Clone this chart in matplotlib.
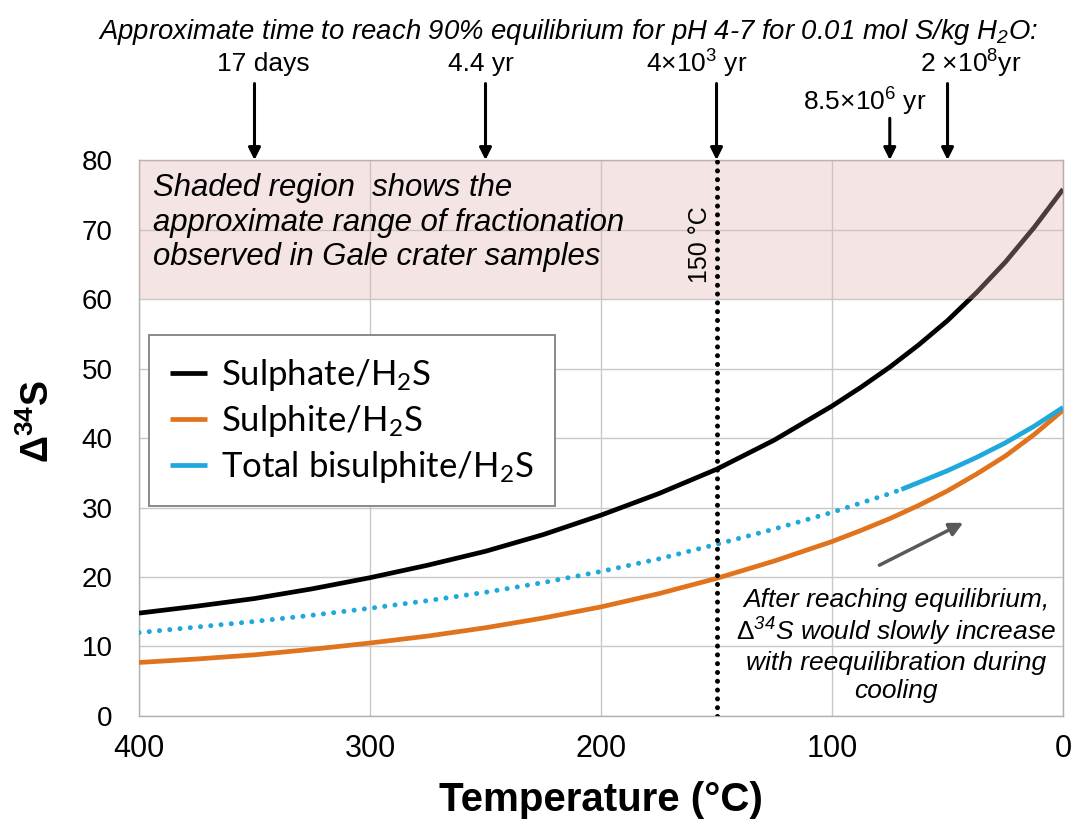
import matplotlib
matplotlib.use("Agg")
import matplotlib.pyplot as plt
from matplotlib.patches import Rectangle

# ---- data ----
temps = [400, 375, 350, 325, 300, 275, 250, 225, 200, 175, 150, 125, 100, 87.5, 75, 62.5, 50, 37.5, 25, 12.5, 0]
sulphate = [14.8, 15.8, 16.9, 18.3, 19.9, 21.7, 23.7, 26.1, 28.9, 32.0, 35.5, 39.7, 44.6, 47.3, 50.2, 53.4, 56.9, 60.9, 65.3, 70.3, 75.8]
sulphite = [7.7, 8.2, 8.8, 9.6, 10.5, 11.5, 12.7, 14.1, 15.7, 17.6, 19.8, 22.3, 25.1, 26.7, 28.4, 30.3, 32.4, 34.8, 37.4, 40.5, 44.0]
bisul_dot_t = [400, 375, 350, 325, 300, 275, 250, 225, 200, 175, 150, 125, 100, 75, 70]
bisul_dot = [12.0, 12.8, 13.6, 14.5, 15.5, 16.6, 17.8, 19.2, 20.8, 22.6, 24.7, 26.9, 29.3, 32.0, 32.6]
bisul_sol_t = [70, 62.5, 50, 37.5, 25, 12.5, 0]
bisul_sol = [32.6, 33.6, 35.3, 37.2, 39.3, 41.7, 44.4]

shade_range = (60, 80)
line_150 = 150

arrow_temps = [350, 250, 150, 75, 50]
arrow_labels = ["17 days", "4.4 yr", "4\u00d710$^\\mathregular{3}$ yr",
                "8.5\u00d710$^\\mathregular{6}$ yr", "2 \u00d710$^\\mathregular{8}$yr"]
arrow_label_y = [93.8, 93.8, 93.8, 88.4, 93.8]
arrow_label_x = [346, 252, 158.5, 86, 40]
arrow_start_y = [91.0, 91.0, 91.0, 86.0, 91.0]

xticks = [400, 300, 200, 100, 0]
yticks = [0, 10, 20, 30, 40, 50, 60, 70, 80]

narrow = ['Liberation Sans Narrow', 'Liberation Sans', 'DejaVu Sans']
arial = ['Liberation Sans', 'DejaVu Sans']
calib = ['Lato', 'DejaVu Sans']

plt.rcParams['mathtext.fontset'] = 'custom'
plt.rcParams['mathtext.rm'] = 'Liberation Sans'
plt.rcParams['mathtext.bf'] = 'Liberation Sans:bold'
plt.rcParams['mathtext.it'] = 'Liberation Sans:italic'

fig = plt.figure(figsize=(10.74, 8.21), dpi=100)
ax = fig.add_axes([0.1294, 0.1279, 0.8604, 0.6772])

ax.set_xlim(400, 0)
ax.set_ylim(0, 80)
ax.set_xticks(xticks)
ax.set_yticks(yticks)
ax.grid(True, color='#c8c8c8', lw=1.0, zorder=0)
ax.set_axisbelow(True)
for s in ax.spines.values():
    s.set_color('#b0b0b0')
    s.set_linewidth(1.0)
ax.tick_params(length=0)
ax.tick_params(axis='y', pad=19)
ax.tick_params(axis='x', pad=13)
for lab in ax.get_yticklabels():
    lab.set_fontfamily(arial)
    lab.set_fontsize(20)
for lab in ax.get_xticklabels():
    lab.set_fontfamily(narrow)
    lab.set_fontsize(22)

LW = 3.4
l1, = ax.plot(temps, sulphate, color='black', lw=LW, solid_capstyle='butt', solid_joinstyle='round', zorder=3, label='Sulphate/H$_\\mathregular{2}$S')
l2, = ax.plot(temps, sulphite, color='#e0731c', lw=LW, solid_capstyle='butt', solid_joinstyle='round', zorder=3, label='Sulphite/H$_\\mathregular{2}$S')
l3, = ax.plot(bisul_sol_t, bisul_sol, color='#1fa8dc', lw=LW, solid_capstyle='butt', solid_joinstyle='round', zorder=3, label='Total bisulphite/H$_\\mathregular{2}$S')
ax.plot(bisul_dot_t, bisul_dot, color='#1fa8dc', lw=3.6, linestyle=(0, (0.01, 2.05)), dash_capstyle='round', zorder=3)

# shaded region on top (semi-transparent)
ax.add_patch(Rectangle((400, shade_range[0]), -400, shade_range[1] - shade_range[0],
                       facecolor='#e1b1b1', alpha=0.34, edgecolor='none', zorder=4))

ax.plot([line_150, line_150], [0, 80], color='black', lw=3.6, linestyle=(0, (0.01, 1.75)),
        dash_capstyle='round', zorder=5)

ax.text(394, 78.1, "Shaded region  shows the\napproximate range of fractionation\nobserved in Gale crater samples",
        family=arial, style='italic', fontsize=22.4, va='top', ha='left', zorder=6, linespacing=1.2)
ax.text(157, 67.8, "150 \u00b0C", family=arial, fontsize=18, rotation=90, ha='center', va='center', zorder=6)

ax.text(72.3, 10.2, "After reaching equilibrium,\n$\\mathit{\\Delta}^{\\mathregular{34}}$S would slowly increase\nwith reequilibration during\ncooling",
        family=arial, style='italic', fontsize=19, ha='center', va='center', zorder=6, linespacing=1.17)

ax.annotate('', xy=(43.2, 27.8), xytext=(79.5, 21.7),
            arrowprops=dict(arrowstyle='-|>', color='#595959', lw=2.5, mutation_scale=20,
                            shrinkA=0, shrinkB=0), zorder=6)

for t, lab, lx, ly, sy in zip(arrow_temps, arrow_labels, arrow_label_x, arrow_label_y, arrow_start_y):
    ax.annotate('', xy=(t, 80), xytext=(t, sy), annotation_clip=False,
                arrowprops=dict(arrowstyle='-|>', color='black', lw=2.2, mutation_scale=18,
                                shrinkA=0, shrinkB=0))
    ax.text(lx, ly, lab, family=narrow, fontsize=19, ha='center', va='center', clip_on=False)

ax.text(214.3, 98.4, "Approximate time to reach 90% equilibrium for pH 4-7 for 0.01 mol S/kg H$_\\mathregular{2}$O:",
        family=narrow, style='italic', fontsize=19.8, ha='center', va='center', clip_on=False)

leg = ax.legend(handles=[l1, l2, l3], loc='upper left', bbox_to_anchor=(0.0108, 0.685),
                borderaxespad=0, frameon=True, fancybox=False, framealpha=1,
                edgecolor='#808080', prop={'family': calib, 'size': 25},
                handlelength=1.05, handletextpad=0.4, labelspacing=0.29, borderpad=0.62)
leg.get_frame().set_linewidth(1.3)
leg.set_zorder(7)

ax.set_xlabel("Temperature (\u00b0C)", family=narrow, fontweight='bold', fontsize=29, labelpad=12)
ax.set_ylabel("\u0394$^{\\mathbf{34}}$S", family=arial, fontweight='bold', fontsize=27, labelpad=18)
ax.yaxis.label.set_y(0.53)

fig.savefig("out.png", dpi=100)
